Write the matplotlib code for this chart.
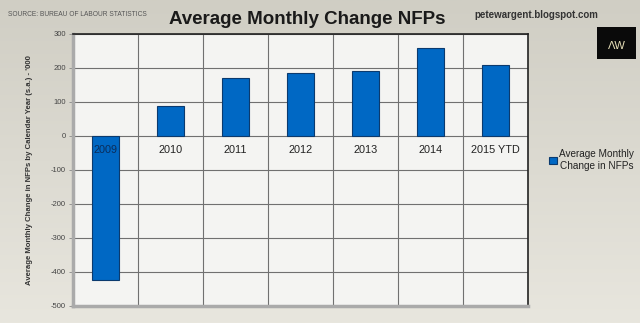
import matplotlib
matplotlib.use("Agg")
import matplotlib.pyplot as plt
import numpy as np
from matplotlib.colors import LinearSegmentedColormap

categories = ["2009", "2010", "2011", "2012", "2013", "2014", "2015 YTD"]
values = [-424, 88, 171, 184, 192, 258, 208]
yticks = [300, 200, 100, 0, -100, -200, -300, -400, -500]

plt.rcParams['font.family'] = ['Liberation Sans', 'DejaVu Sans']

fig = plt.figure(figsize=(6.4, 3.23), dpi=100)
# background gradient
bg = fig.add_axes([0, 0, 1, 1], zorder=-10)
grad = np.linspace(0, 1, 256).reshape(-1, 1)
cmap = LinearSegmentedColormap.from_list("bg", ["#d0cec4", "#e8e6de"])
bg.imshow(grad, aspect="auto", cmap=cmap, extent=[0, 1, 0, 1], origin="upper")
bg.axis("off")

ax = fig.add_axes([0.114, 0.053, 0.711, 0.842])
ax.set_facecolor("#f4f4f2")
x = np.arange(len(categories))
ax.bar(x, values, width=0.42, color="#0068c4", edgecolor="#0b3a6e", linewidth=0.8, zorder=3,
       label="Average Monthly\nChange in NFPs")
ax.set_xlim(-0.5, len(categories) - 0.5)
ax.set_ylim(-500, 300)
ax.set_yticks(yticks)
ax.set_yticklabels([str(t) for t in yticks], fontsize=5.5, color="#444444")
ax.set_xticks([])
for b in np.arange(0.5, len(categories) - 0.5):
    ax.axvline(b, color="#707070", linewidth=0.8, zorder=1)
for t in yticks:
    ax.axhline(t, color="#707070", linewidth=0.8, zorder=1)
ax.tick_params(axis="y", length=3, width=0.6, color="#888888", pad=2)
for s in ["top", "right"]:
    ax.spines[s].set_color("#222222")
    ax.spines[s].set_linewidth(1.2)
for s in ["left", "bottom"]:
    ax.spines[s].set_color("#aaaaaa")
    ax.spines[s].set_linewidth(2.5)

for i, c in enumerate(categories):
    ax.text(i, -41, c, ha="center", va="center", fontsize=7.8,
            color="#222222" if i else "#0b2d5a", zorder=4)

ax.set_ylabel("Average Monthly Change in NFPs by Calendar Year (s.a.) - '000",
              fontsize=5.6, fontweight="bold", color="#333333", labelpad=13)

fig.text(0.48, 0.94, "Average Monthly Change NFPs", ha="center", va="center",
         fontsize=13.5, fontweight="bold", color="#1a1a1a")
fig.text(0.013, 0.955, "SOURCE: BUREAU OF LABOUR STATISTICS", ha="left", va="center",
         fontsize=4.8, color="#555555")
fig.text(0.935, 0.955, "petewargent.blogspot.com", ha="right", va="center",
         fontsize=7, fontweight="bold", color="#333333")

# AW logo
logo = fig.add_axes([0.933, 0.817, 0.061, 0.099])
logo.set_facecolor("#0a0a0a")
logo.set_xticks([]); logo.set_yticks([])
for s in logo.spines.values():
    s.set_visible(False)
logo.text(0.5, 0.4, "ΛW", ha="center", va="center", fontsize=8, color="#e8e0b8")

handles, labels = ax.get_legend_handles_labels()
leg = fig.legend(handles, labels, loc="center left", bbox_to_anchor=(0.848, 0.505),
                 frameon=False, fontsize=7.2, handlelength=0.8, handleheight=0.8,
                 handletextpad=0.25, borderpad=0.1, labelspacing=0.1)
for t in leg.get_texts():
    t.set_multialignment("center")
    t.set_color("#222222")

fig.savefig("out.png", dpi=100)
